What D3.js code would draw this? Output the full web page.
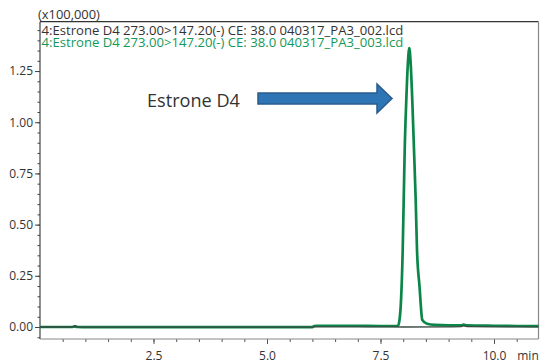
<!DOCTYPE html>
<html lang="en">
	<head>
		<meta charset="utf-8">
		<title>Estrone D4</title>
		<script src="https://d3js.org/d3.v7.min.js"></script>
		<style>
			body { margin: 0; background: #fff; }
			text { font-family: "Open Sans", "Noto Sans", sans-serif; }
		</style>
	</head>
	<body>
		<div id="chart"></div>
		<script>
			// chromatogram 003 (green), time in min, intensity in x100,000
			let t003 = [0.00, 0.70, 0.77, 0.84, 1.00, 2.00, 3.00, 4.00, 5.00, 6.00, 6.04, 6.10, 6.50, 7.00, 7.50, 7.80,
				7.885, 7.918, 7.952, 7.989, 8.011, 8.033, 8.068, 8.106, 8.134, 8.161, 8.200, 8.238, 8.275, 8.304,
				8.359, 8.421, 8.524, 8.700, 9.000, 9.280, 9.330, 9.400, 10.00, 10.50, 10.98];
			let v003 = [0.000, 0.000, 0.002, 0.000, -0.001, -0.001, -0.001, -0.001, -0.001, -0.001, 0.005, 0.006, 0.006, 0.006, 0.005, 0.005,
				0.006, 0.034, 0.130, 0.376, 0.620, 0.864, 1.108, 1.300, 1.362, 1.300, 1.108, 0.864, 0.620, 0.376,
				0.200, 0.034, 0.016, 0.010, 0.008, 0.008, 0.012, 0.008, 0.006, 0.005, 0.004];

			// chromatogram 002 (black)
			let t002 = [0.00, 0.70, 0.77, 0.84, 1.00, 3.00, 6.00, 6.04, 7.00, 8.00, 9.00, 9.28, 9.33, 9.40, 10.00, 10.98];
			let v002 = [0.000, 0.000, 0.006, 0.000, -0.001, -0.001, -0.001, 0.001, 0.001, 0.000, 0.001, 0.002, 0.006, 0.002, 0.001, 0.001];

			let legendLabels = ["4:Estrone D4 273.00>147.20(-) CE: 38.0 040317_PA3_002.lcd",
				"4:Estrone D4 273.00>147.20(-) CE: 38.0 040317_PA3_003.lcd"];
			let yMajor = [0, 0.25, 0.5, 0.75, 1.0, 1.25];
			let yLabels = ["0.00", "0.25", "0.50", "0.75", "1.00", "1.25"];
			let xMajor = [2.5, 5.0, 7.5, 10.0];
			let xLabels = ["2.5", "5.0", "7.5", "10.0"];

			let width = 542, height = 363;
			let plot = {left: 40, right: 538.5, top: 21.7, bottom: 339};

			let svg = d3.select("#chart").append("svg")
				.attr("width", width)
				.attr("height", height);

			let xScale = d3.scaleLinear().domain([0, 10.98]).range([plot.left, plot.right]);
			let yScale = d3.scaleLinear().domain([-0.0586, 1.491]).range([plot.bottom, plot.top]);

			// fit a text element to a target width
			function fitText(sel, target) {
				let size = parseFloat(sel.style("font-size"));
				let w = sel.node().getComputedTextLength();
				sel.style("font-size", (size * target / w) + "px");
			}

			// frame
			svg.append("line").attr("x1", plot.left).attr("x2", plot.right).attr("y1", plot.top).attr("y2", plot.top)
				.attr("stroke", "#333").attr("stroke-width", 1.2);
			svg.append("line").attr("x1", plot.right).attr("x2", plot.right).attr("y1", plot.top).attr("y2", plot.bottom)
				.attr("stroke", "#888").attr("stroke-width", 1.2);

			// y axis
			let yMinor = d3.range(-0.05, 1.46, 0.05);
			svg.append("g").attr("transform", "translate(" + plot.left + ",0)")
				.call(d3.axisLeft(yScale).tickValues(yMinor).tickSize(2.5).tickFormat(""))
				.call(g => g.select(".domain").remove())
				.selectAll("line").attr("stroke", "#444");
			let yAxisG = svg.append("g").attr("transform", "translate(" + plot.left + ",0)")
				.call(d3.axisLeft(yScale).tickValues(yMajor).tickSize(5).tickPadding(2)
					.tickFormat((d, i) => yLabels[i]));
			yAxisG.select(".domain").remove();
			yAxisG.selectAll("line").attr("stroke", "#444");
			yAxisG.selectAll("text").style("font-size", "12px").attr("fill", "#333");
			svg.append("line").attr("x1", plot.left).attr("x2", plot.left).attr("y1", plot.top).attr("y2", plot.bottom)
				.attr("stroke", "#444").attr("stroke-width", 1.2);

			// x axis
			let xMinor = d3.range(0.5, 11, 0.5);
			svg.append("g").attr("transform", "translate(0," + plot.bottom + ")")
				.call(d3.axisBottom(xScale).tickValues(xMinor).tickSize(3).tickFormat(""))
				.call(g => g.select(".domain").remove())
				.selectAll("line").attr("stroke", "#555");
			let xAxisG = svg.append("g").attr("transform", "translate(0," + plot.bottom + ")")
				.call(d3.axisBottom(xScale).tickValues(xMajor).tickSize(5).tickPadding(7)
					.tickFormat((d, i) => xLabels[i]));
			xAxisG.select(".domain").remove();
			xAxisG.selectAll("line").attr("stroke", "#555");
			xAxisG.selectAll("text").style("font-size", "12px").attr("fill", "#333");
			svg.append("line").attr("x1", plot.left).attr("x2", plot.right).attr("y1", plot.bottom).attr("y2", plot.bottom)
				.attr("stroke", "#888").attr("stroke-width", 1.2);
			svg.append("text").attr("x", 528).attr("y", 360).attr("text-anchor", "middle")
				.style("font-size", "12px").attr("fill", "#333").text("min");

			// traces
			let line = d3.line()
				.x(d => xScale(d[0]))
				.y(d => yScale(d[1]))
				.curve(d3.curveMonotoneX);

			svg.append("path")
				.datum(t003.map((t, i) => [t, v003[i]]))
				.attr("d", line)
				.attr("fill", "none")
				.attr("stroke", "#0b8648")
				.attr("stroke-width", 2.7);
			svg.append("path")
				.datum(t002.map((t, i) => [t, v002[i]]))
				.attr("d", line)
				.attr("fill", "none")
				.attr("stroke", "#3a4a42")
				.attr("stroke-width", 1.3);

			// header and legend
			let head = svg.append("text").attr("x", 38).attr("y", 18.5)
				.style("font-size", "12px").attr("fill", "#333").text("(x100,000)");
			fitText(head, 62);
			let legColors = ["#333", "#12995a"];
			legendLabels.forEach(function(lab, i) {
				let t = svg.append("text").attr("x", 41.5).attr("y", 34.5 + i * 12)
					.style("font-size", "12px").attr("fill", legColors[i]).text(lab);
				fitText(t, 362);
			});

			// annotation
			let ann = svg.append("text").attr("x", 147).attr("y", 106.7)
				.style("font-size", "16px").attr("fill", "#333").text("Estrone D4");
			fitText(ann, 93);

			let arrow = [[258, 93], [377, 93], [377, 84], [392, 98.5], [377, 113], [377, 104], [258, 104]];
			svg.append("path")
				.attr("d", "M" + arrow.map(p => p.join(",")).join("L") + "Z")
				.attr("fill", "#2e75b6")
				.attr("stroke", "#2a5b8c")
				.attr("stroke-width", 1.5);
		</script>
	</body>
</html>
